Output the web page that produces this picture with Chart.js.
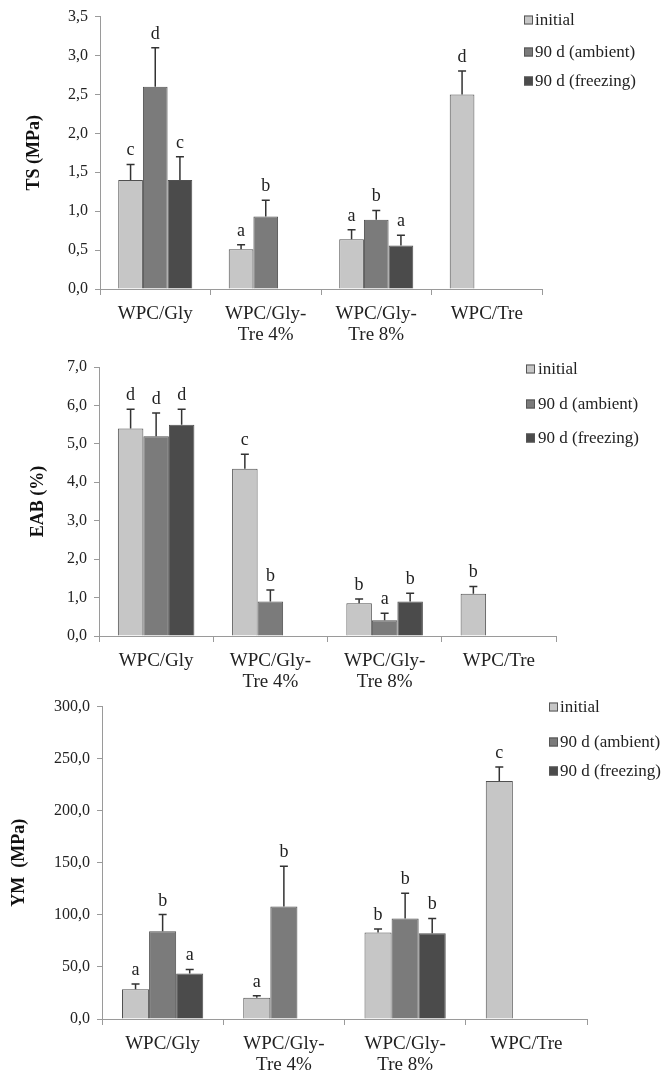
<!DOCTYPE html>
<html>
<head>
<meta charset="utf-8">
<script src="https://cdn.jsdelivr.net/npm/chart.js@4.4.1/dist/chart.umd.min.js"></script>
<style>
  html, body { margin: 0; padding: 0; background: #fff; }
  body { width: 662px; height: 1072px; position: relative; overflow: hidden; }
  .panel { position: absolute; left: 0; width: 662px; }
</style>
</head>
<body>
<div class="panel" style="top:0;height:365px"><canvas id="ts-chart"></canvas></div>
<div class="panel" style="top:345px;height:365px"><canvas id="eab-chart"></canvas></div>
<div class="panel" style="top:690px;height:392px"><canvas id="ym-chart"></canvas></div>
<script>
// categories and series shared by the three panels
var categories = [['WPC/Gly'], ['WPC/Gly-', 'Tre 4%'], ['WPC/Gly-', 'Tre 8%'], ['WPC/Tre']];
var seriesNames = ['initial', '90 d (ambient)', '90 d (freezing)'];

// TS (MPa)
var tsInitial = [1.40, 0.51, 0.64, 2.50];
var tsAmbient = [2.60, 0.93, 0.89, null];
var tsFreezing = [1.40, null, 0.56, null];
var tsInitialErr = [0.20, 0.06, 0.12, 0.30];
var tsAmbientErr = [0.50, 0.21, 0.12, null];
var tsFreezingErr = [0.30, null, 0.13, null];
var tsInitialLetters = ['c', 'a', 'a', 'd'];
var tsAmbientLetters = ['d', 'b', 'b', ''];
var tsFreezingLetters = ['c', '', 'a', ''];

// EAB (%)
var eabInitial = [5.40, 4.35, 0.85, 1.10];
var eabAmbient = [5.20, 0.90, 0.41, null];
var eabFreezing = [5.50, null, 0.90, null];
var eabInitialErr = [0.50, 0.38, 0.11, 0.19];
var eabAmbientErr = [0.60, 0.30, 0.18, null];
var eabFreezingErr = [0.40, null, 0.21, null];
var eabInitialLetters = ['d', 'c', 'b', 'b'];
var eabAmbientLetters = ['d', 'b', 'a', ''];
var eabFreezingLetters = ['d', '', 'b', ''];

// YM (MPa)
var ymInitial = [28.5, 20.3, 83.0, 228.6];
var ymAmbient = [84.3, 108.1, 96.5, null];
var ymFreezing = [43.8, null, 82.4, null];
var ymInitialErr = [5.0, 2.0, 3.4, 13.3];
var ymAmbientErr = [16.0, 38.7, 24.2, null];
var ymFreezingErr = [3.8, null, 14.2, null];
var ymInitialLetters = ['a', 'a', 'b', 'c'];
var ymAmbientLetters = ['b', 'b', 'b', ''];
var ymFreezingLetters = ['a', '', 'b', ''];

var barColors = ['#c6c6c6', '#7b7b7b', '#4b4b4b'];
var serif = "'Liberation Serif', 'Times New Roman', serif";

Chart.defaults.font.family = serif;
Chart.defaults.color = '#222';

function commaLabel(v) {
    return Number(v).toFixed(1).replace('.', ',');
}

// error bars (upper half only) and the significance letters
var errorBarPlugin = {
    id: 'errorBars',
    afterDatasetsDraw: function(chart) {
        var ctx = chart.ctx;
        var yScale = chart.scales.y;
        ctx.save();
        chart.data.datasets.forEach(function(ds, i) {
            var meta = chart.getDatasetMeta(i);
            meta.data.forEach(function(bar, j) {
                if (ds.data[j] === null) return;
                var top = yScale.getPixelForValue(ds.data[j] + ds.errors[j]);
                ctx.strokeStyle = '#333';
                ctx.lineWidth = 1.5;
                ctx.beginPath();
                ctx.moveTo(bar.x, bar.y);
                ctx.lineTo(bar.x, top);
                ctx.moveTo(bar.x - 4, top);
                ctx.lineTo(bar.x + 4, top);
                ctx.stroke();
                if (ds.letters[j]) {
                    ctx.fillStyle = '#222';
                    ctx.font = '18px ' + serif;
                    ctx.textAlign = 'center';
                    ctx.textBaseline = 'alphabetic';
                    ctx.fillText(ds.letters[j], bar.x, top - 9);
                }
            });
        });
        ctx.restore();
    }
};

// legend drawn in the corner, overlapping the plot width like the original
var cornerLegendPlugin = {
    id: 'cornerLegend',
    afterDraw: function(chart) {
        var opts = chart.options.plugins.cornerLegend;
        var ctx = chart.ctx;
        ctx.save();
        ctx.font = '17px ' + serif;
        ctx.textAlign = 'left';
        ctx.textBaseline = 'middle';
        chart.data.datasets.forEach(function(ds, i) {
            var y = opts.rows[i];
            ctx.fillStyle = ds.backgroundColor;
            ctx.fillRect(opts.x, y - 4.5, 9, 9);
            ctx.strokeStyle = '#555';
            ctx.lineWidth = 1;
            ctx.strokeRect(opts.x + 0.5, y - 4, 8, 8);
            ctx.fillStyle = '#222';
            ctx.fillText(ds.label, opts.textX, y + 1);
        });
        ctx.restore();
    }
};

function makeDataset(i, values, errors, letters) {
    return {
        label: seriesNames[i],
        data: values,
        errors: errors,
        letters: letters,
        backgroundColor: barColors[i],
        borderColor: '#505050',
        borderWidth: 1,
        categoryPercentage: 0.67,
        barPercentage: 1.0
    };
}

function drawPanel(id, datasets, cfg) {
    var ctx = document.getElementById(id).getContext('2d');
    return new Chart(ctx, {
        type: 'bar',
        data: {
            labels: categories,
            datasets: datasets
        },
        options: {
            responsive: true,
            maintainAspectRatio: false,
            animation: false,
            layout: { padding: cfg.padding },
            plugins: {
                legend: { display: false },
                tooltip: { enabled: false },
                cornerLegend: cfg.legend
            },
            scales: {
                x: {
                    afterFit: function(scale) { scale.height = 60; },
                    grid: {
                        offset: true,
                        drawOnChartArea: false,
                        tickLength: 6,
                        color: '#9a9a9a'
                    },
                    border: { color: '#9a9a9a', width: 1 },
                    ticks: {
                        padding: 8,
                        maxRotation: 0,
                        autoSkip: false,
                        color: '#222',
                        font: { size: 19, lineHeight: 1.12 }
                    }
                },
                y: {
                    min: 0,
                    max: cfg.max,
                    afterFit: function(scale) { scale.width = cfg.axisWidth; },
                    grid: {
                        drawOnChartArea: false,
                        tickLength: 5,
                        color: '#9a9a9a'
                    },
                    border: { color: '#9a9a9a', width: 1 },
                    ticks: {
                        stepSize: cfg.step,
                        padding: 7,
                        color: '#222',
                        font: { size: 16 },
                        callback: function(v) { return commaLabel(v); }
                    },
                    title: {
                        display: true,
                        text: cfg.title,
                        color: '#111',
                        padding: { top: 4, bottom: 4 },
                        font: { size: 18, weight: 'bold' }
                    }
                }
            }
        },
        plugins: [errorBarPlugin, cornerLegendPlugin]
    });
}

drawPanel('ts-chart', [
    makeDataset(0, tsInitial, tsInitialErr, tsInitialLetters),
    makeDataset(1, tsAmbient, tsAmbientErr, tsAmbientLetters),
    makeDataset(2, tsFreezing, tsFreezingErr, tsFreezingLetters)
], {
    title: 'TS (MPa)', max: 3.5, step: 0.5, axisWidth: 80,
    padding: { left: 20, right: 120, top: 16, bottom: 16 },
    legend: { x: 524, textX: 535, rows: [20, 52, 81] }
});

drawPanel('eab-chart', [
    makeDataset(0, eabInitial, eabInitialErr, eabInitialLetters),
    makeDataset(1, eabAmbient, eabAmbientErr, eabAmbientLetters),
    makeDataset(2, eabFreezing, eabFreezingErr, eabFreezingLetters)
], {
    title: 'EAB (%)', max: 7, step: 1, axisWidth: 75,
    padding: { left: 24, right: 106, top: 22, bottom: 14 },
    legend: { x: 526, textX: 538, rows: [24, 59, 93] }
});

drawPanel('ym-chart', [
    makeDataset(0, ymInitial, ymInitialErr, ymInitialLetters),
    makeDataset(1, ymAmbient, ymAmbientErr, ymAmbientLetters),
    makeDataset(2, ymFreezing, ymFreezingErr, ymFreezingLetters)
], {
    title: 'YM  (MPa)', max: 300, step: 50, axisWidth: 97,
    padding: { left: 5, right: 75, top: 14, bottom: 3 },
    legend: { x: 549, textX: 560, rows: [17, 52, 81] }
});
</script>
</body>
</html>
